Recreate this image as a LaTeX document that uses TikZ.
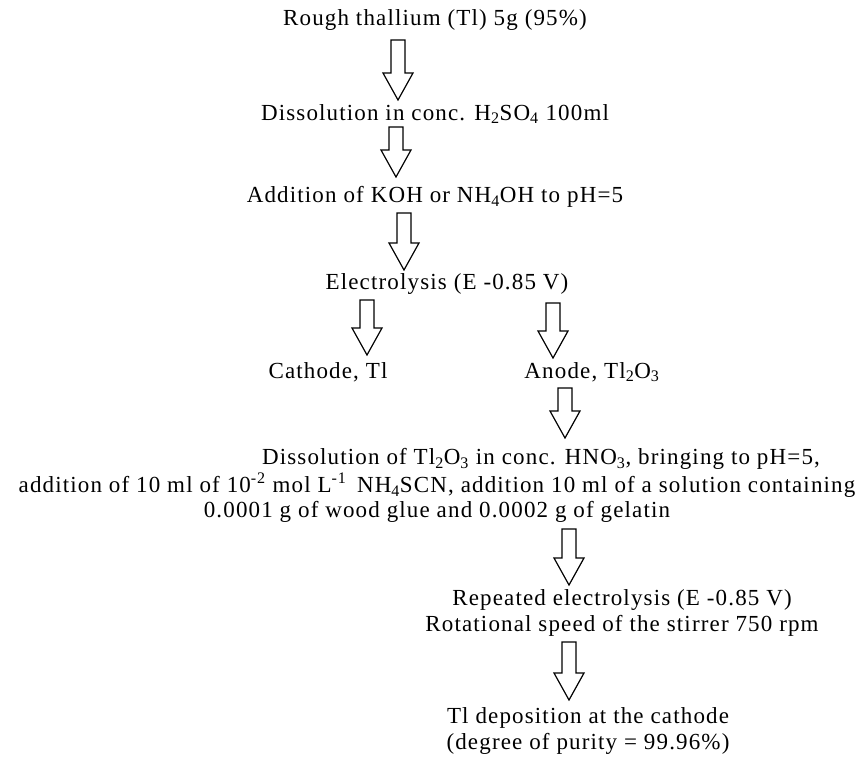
\documentclass[tikz,border=0pt]{standalone}
\usepackage{fontspec}
\setmainfont{Liberation Serif}[LetterSpace=5]
\begin{document}
\begin{tikzpicture}[x=1pt,y=-1pt,
  lbl/.style={inner sep=0pt, align=center, font=\fontsize{23}{26.5}\selectfont},
  barrowstyle/.style={draw=black, line width=1.2pt, fill=white, line join=miter}]
\useasboundingbox (0,0) rectangle (868,758);
\newcommand\barrow[3]{% x, top, tip
  \draw[barrowstyle] (#1-7,#2) -- (#1+7,#2) -- (#1+7,#3-27) -- (#1+15,#3-27)
    -- (#1,#3) -- (#1-15,#3-27) -- (#1-7,#3-27) -- cycle;}
\node[lbl] (rough) at (435,20) {Rough thallium (Tl) 5g (95\%)};
\node[lbl] (diss) at (435,114) {Dissolution in conc. H\textsubscript{2}SO\textsubscript{4} 100ml};
\node[lbl] (add) at (435,197) {Addition of KOH or NH\textsubscript{4}OH to pH=5};
\node[lbl] (elec) at (447,284) {Electrolysis (E -0.85 V)};
\node[lbl] (cath) at (328,372) {Cathode, Tl};
\node[lbl] (anode) at (592,372) {Anode, Tl\textsubscript{2}O\textsubscript{3}};
\node[lbl] (dissa) at (541,459) {Dissolution of Tl\textsubscript{2}O\textsubscript{3} in conc. HNO\textsubscript{3}, bringing to pH=5,};
\node[lbl] (dissb) at (437,485) {addition of 10 ml of 10\textsuperscript{-2} mol L\textsuperscript{-1}\, NH\textsubscript{4}SCN, addition 10 ml of a solution containing};
\node[lbl] (dissc) at (437,512) {0.0001 g of wood glue and 0.0002 g of gelatin};
\node[lbl] (rep) at (622,613) {Repeated electrolysis (E -0.85 V)\\ Rotational speed of the stirrer 750 rpm};
\node[lbl] (depo) at (588,731) {Tl deposition at the cathode\\ (degree of purity = 99.96\%)};
\barrow{398}{40}{100}
\barrow{396}{127}{177}
\barrow{404}{213}{270}
\barrow{367}{300}{355}
\barrow{553}{303}{358}
\barrow{565}{388}{438}
\barrow{569}{529}{585}
\barrow{569}{642}{700}
\end{tikzpicture}
\end{document}
